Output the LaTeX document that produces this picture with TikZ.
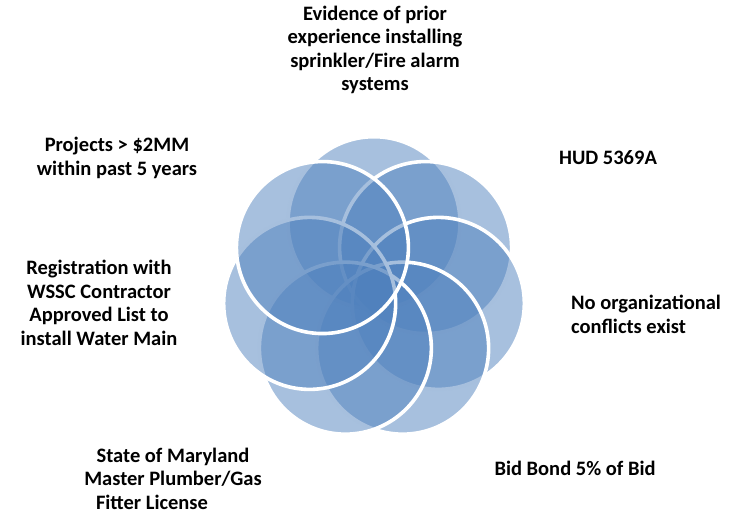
\documentclass[tikz,border=0pt]{standalone}
\usepackage{fontspec}
\setmainfont{Carlito}
\usetikzlibrary{calc}
\definecolor{petalblue}{RGB}{79,129,189}
\begin{document}
\begin{tikzpicture}[x=1pt,y=-1pt,
  petal/.style={fill=petalblue, fill opacity=0.5, draw=white, draw opacity=1, line width=3.6pt},
  lbl/.style={font=\fontsize{20.5}{23.5}\selectfont\bfseries, text=black, inner sep=0pt, align=center}]
\path[use as bounding box] (0,0) rectangle (733,513);
\coordinate (C) at (374,288.7);
\foreach \k in {0,...,6}{
  \pgfmathsetmacro{\a}{90-\k*360/7}
  \path[petal] ($(C)+(-\a:66)$) circle[radius=86pt];
}
\node[lbl] (evidence) at (375,50) {Evidence of prior\\experience installing\\sprinkler/Fire alarm\\systems};
\node[lbl] (hud) at (608,158) {HUD 5369A};
\node[lbl, align=left, anchor=west] (noorg) at (571,314.5) {No organizational\\conflicts exist};
\node[lbl] (bid) at (575,468) {Bid Bond 5\% of Bid};
\node[lbl] (state) at (173,478.5) {State of Maryland\\Master Plumber/Gas\\Fitter License\hspace*{42pt}};
\node[lbl] (wssc) at (99,303) {Registration with\\WSSC Contractor\\Approved List to\\install Water Main};
\node[lbl] (projects) at (117,158) {Projects > \$2MM\\within past 5 years};
\end{tikzpicture}
\end{document}
